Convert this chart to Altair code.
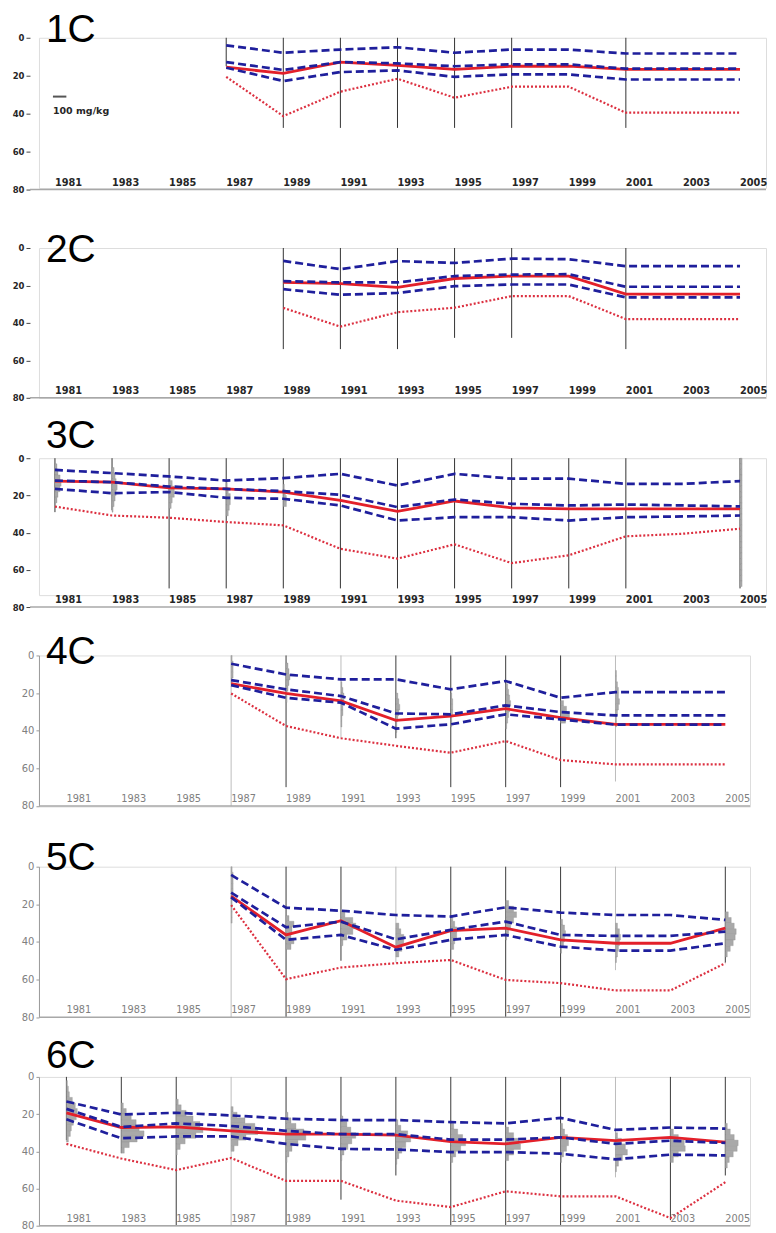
import altair as alt
import pandas as pd

TICK_YEARS = list(range(1981, 2006, 2))
TICK_LABELS = [str(y) for y in TICK_YEARS]
Y_TICKS = [0, 20, 40, 60, 80]
STATS = ["P10", "P25", "P50", "P75", "P90"]
HIST_BIN = 3          # depth units per histogram bin
HIST_SCALE = 0.036    # years per histogram count

# ---------------- 1C ----------------
C1_YEARS = [1987, 1989, 1991, 1993, 1995, 1997, 1999, 2001, 2003, 2005]
C1_P10 = [4.0, 7.9, 6.2, 5.0, 7.9, 6.2, 6.2, 8.3, 8.3, 8.3]
C1_P25 = [12.8, 17.0, 12.8, 13.5, 15.0, 14.0, 14.0, 16.3, 16.3, 16.3]
C1_P50 = [15.5, 18.8, 12.8, 14.6, 16.7, 15.0, 15.0, 16.7, 16.7, 16.7]
C1_P75 = [15.8, 22.8, 18.1, 17.2, 20.6, 19.3, 19.3, 22.0, 22.0, 22.0]
C1_P90 = [20.6, 41.3, 28.4, 21.6, 31.6, 25.8, 25.8, 39.5, 39.5, 39.5]
C1_RANGE_YEARS = [1987, 1989, 1991, 1993, 1995, 1997, 2001]
C1_RANGE_MAX = [15, 47.5, 47.5, 47.5, 47.5, 47.5, 47.5]
C1_FAINT = []
C1_HIST = {}

# ---------------- 2C ----------------
C2_YEARS = [1989, 1991, 1993, 1995, 1997, 1999, 2001, 2003, 2005]
C2_P10 = [6.9, 11.3, 7.0, 8.0, 5.7, 6.0, 9.7, 9.7, 9.7]
C2_P25 = [17.7, 18.4, 18.4, 15.0, 14.2, 14.0, 20.7, 20.7, 20.7]
C2_P50 = [18.4, 19.0, 21.0, 16.3, 15.0, 15.0, 24.6, 24.6, 24.6]
C2_P75 = [22.0, 25.0, 24.0, 20.4, 19.5, 19.5, 26.4, 26.4, 26.4]
C2_P90 = [32.0, 42.0, 34.3, 31.9, 25.7, 25.7, 38.0, 38.0, 38.0]
C2_RANGE_YEARS = [1989, 1991, 1993, 1995, 1997, 2001]
C2_RANGE_MAX = [54, 54, 54, 48, 48, 54]
C2_FAINT = []
C2_HIST = {}

# ---------------- 3C ----------------
C3_YEARS = TICK_YEARS
C3_P10 = [6.3, 8.0, 9.8, 12.0, 10.7, 8.4, 14.7, 8.4, 11.0, 11.0, 13.8, 13.8, 12.3]
C3_P25 = [12.0, 12.9, 15.2, 16.5, 17.7, 19.7, 26.3, 22.2, 24.5, 25.4, 24.9, 25.4, 25.9]
C3_P50 = [12.3, 12.9, 15.9, 16.5, 18.2, 22.7, 28.6, 23.0, 26.7, 27.2, 27.2, 27.2, 27.2]
C3_P75 = [16.5, 18.8, 18.2, 21.3, 21.8, 25.4, 33.5, 31.7, 31.7, 33.5, 31.7, 31.3, 30.8]
C3_P90 = [26.0, 30.8, 32.0, 34.3, 36.1, 48.7, 54.0, 46.3, 56.4, 52.2, 42.0, 40.6, 37.9]
C3_RANGE_YEARS = [1981, 1983, 1985, 1987, 1989, 1991, 1993, 1995, 1997, 1999, 2001, 2005]
C3_RANGE_MAX = [29, 28, 70, 70, 70, 70, 70, 70, 70, 70, 70, 70]
C3_FAINT = []
C3_HIST = {
    1981: (3, [2, 3, 5, 6, 5, 3, 2]),
    1983: (5, [2, 3, 4, 5, 4, 3, 2, 1]),
    1985: (9, [1, 3, 5, 5, 3, 2]),
    1987: (13, [1, 2, 4, 4, 3, 2]),
    1989: (14, [1, 2, 3, 3]),
    2005: (0, [2] * 23),
}

# ---------------- 4C ----------------
C4_YEARS = [1987, 1989, 1991, 1993, 1995, 1997, 1999, 2001, 2003, 2005]
C4_P10 = [4.4, 10.1, 12.7, 12.7, 18.0, 13.6, 22.5, 19.5, 19.5, 19.5]
C4_P25 = [13.1, 18.0, 21.6, 30.8, 31.3, 26.5, 30.1, 31.9, 31.9, 31.9]
C4_P50 = [15.0, 20.2, 24.2, 34.5, 32.2, 28.3, 33.0, 36.6, 36.6, 36.6]
C4_P75 = [15.8, 22.5, 25.1, 38.9, 36.6, 31.3, 34.0, 36.8, 36.8, 36.8]
C4_P90 = [20.2, 37.5, 44.0, 48.0, 51.7, 45.5, 55.6, 57.9, 57.9, 57.9]
C4_RANGE_YEARS = [1987, 1989, 1991, 1993, 1995, 1997, 1999, 2001]
C4_RANGE_MAX = [80, 70, 44, 44, 70, 70, 70, 67]
C4_FAINT = [1987, 1991, 2001]
C4_HIST = {
    1987: (0, [1, 2, 2, 2, 1]),
    1989: (4, [2, 3, 4, 3, 2, 1, 1]),
    1991: (14, [1, 2, 3, 3, 2, 2, 1, 1]),
    1993: (20, [2, 3, 4, 3, 2, 1, 1]),
    1995: (20, [1, 2, 2, 2, 1, 1]),
    1997: (15, [2, 3, 4, 5, 4, 3, 2, 1]),
    1999: (24, [3, 6, 9, 5]),
    2001: (8, [1, 1, 2, 3, 3, 4, 3, 2, 1, 1]),
}

# ---------------- 5C ----------------
C5_YEARS = [1987, 1989, 1991, 1993, 1995, 1997, 1999, 2001, 2003, 2005]
C5_P10 = [4.4, 21.8, 23.4, 25.7, 26.5, 21.6, 24.4, 25.7, 25.7, 28.3]
C5_P25 = [13.8, 32.2, 29.2, 38.6, 33.6, 29.2, 36.3, 36.8, 36.8, 34.5]
C5_P50 = [15.6, 36.3, 28.7, 42.8, 34.0, 32.7, 38.9, 40.7, 40.7, 32.7]
C5_P75 = [16.3, 38.9, 36.3, 44.2, 38.9, 36.3, 42.5, 44.6, 44.6, 40.7]
C5_P90 = [20.4, 59.8, 53.6, 51.3, 49.6, 60.2, 61.9, 65.8, 65.8, 51.3]
C5_RANGE_YEARS = [1987, 1989, 1991, 1993, 1995, 1997, 1999, 2001, 2005]
C5_RANGE_MAX = [80, 80, 50, 51, 80, 80, 80, 55, 51]
C5_FAINT = [1987, 1993, 2001]
C5_HIST = {
    1987: (0, [1, 2, 2, 2, 2, 1, 1, 1, 1, 1]),
    1989: (26, [3, 8, 6, 5, 8, 5]),
    1991: (24, [4, 12, 15, 12, 6, 2]),
    1993: (30, [3, 5, 8, 8, 6, 3]),
    1995: (26, [2, 4, 6, 6, 4, 3]),
    1997: (18, [3, 8, 11, 8, 5, 3, 1]),
    1999: (28, [2, 4, 5, 4, 3, 1]),
    2001: (30, [2, 4, 5, 4, 3, 2, 1]),
    2005: (24, [3, 6, 9, 11, 10, 8, 5, 2]),
}

# ---------------- 6C ----------------
C6_YEARS = TICK_YEARS
C6_P10 = [13.2, 20.2, 19.3, 20.7, 22.5, 23.2, 23.2, 24.3, 25.0, 22.0, 28.5, 27.2, 27.8]
C6_P25 = [17.2, 26.9, 25.0, 26.4, 29.0, 30.8, 30.8, 33.7, 33.7, 32.5, 36.0, 34.3, 35.5]
C6_P50 = [19.3, 27.2, 26.9, 29.0, 30.8, 30.8, 31.3, 34.8, 36.0, 32.5, 34.3, 32.5, 35.1]
C6_P75 = [22.8, 33.0, 32.0, 32.0, 36.0, 38.7, 39.0, 40.4, 40.4, 41.3, 44.3, 41.8, 42.2]
C6_P90 = [36.0, 43.9, 50.1, 43.6, 55.9, 55.9, 66.5, 70.0, 61.5, 64.2, 64.2, 75.9, 56.6]
C6_RANGE_YEARS = TICK_YEARS
C6_RANGE_MAX = [34, 41, 80, 80, 80, 66, 53, 80, 80, 80, 54, 77, 53]
C6_FAINT = [1987, 2001]
C6_HIST = {
    1981: (2, [1, 2, 3, 6, 9, 11, 10, 7, 5, 4, 2]),
    1983: (14, [2, 5, 10, 15, 18, 23, 16, 8, 3]),
    1985: (12, [2, 5, 10, 17, 24, 27, 20, 9, 4, 1]),
    1987: (16, [2, 6, 14, 24, 27, 15, 7, 3]),
    1989: (19, [2, 5, 10, 18, 20, 12, 6, 3, 1]),
    1991: (21, [2, 6, 10, 15, 11, 7, 3, 1]),
    1993: (23, [2, 5, 12, 15, 10, 6, 3, 1]),
    1995: (25, [3, 7, 12, 15, 10, 5, 2]),
    1997: (27, [3, 8, 13, 15, 8, 3]),
    1999: (25, [2, 4, 7, 8, 6, 3, 1]),
    2001: (30, [2, 6, 10, 12, 7, 3, 1]),
    2003: (28, [3, 8, 14, 15, 8, 3]),
    2005: (25, [2, 5, 9, 13, 12, 8, 4, 2]),
}

BLUE = "#1f1f9c"
RED = "#e3202a"
RED_DOT = "#dc3040"

STYLE_A = dict(
    xdom=[1980.44, 2005.91], width=728, frame_from=1980.125,
    label_font="DejaVu Sans", label_weight="bold", label_size=9.8, label_color="#262626",
    ylabel_size=8.5, ylabel_color="#262626", y_domain=False, y_offset=9, min_extent=21,
    tick_size=4, tick_color="#444444", dark="#333333", faint="#b5b5b5",
)
STYLE_B = dict(
    xdom=[1980.0, 2005.9], width=712, frame_from=1980.0,
    label_font="DejaVu Sans", label_weight="normal", label_size=9.8, label_color="#808080",
    ylabel_size=10, ylabel_color="#808080", y_domain=True, y_offset=0, min_extent=30,
    tick_size=3, tick_color="#9a9a9a", dark="#3a3a3a", faint="#bdbdbd",
)


def panel(name, years, series, rng_years, rng_max, faint, hist, style, plot_h, view_h,
          title_y, legend=False):
    xs = alt.Scale(domain=style["xdom"], nice=False, zero=False)
    ys = alt.Scale(domain=[0, 80], range=[0, plot_h], nice=False, zero=False)
    yaxis = alt.Axis(
        values=Y_TICKS, title=None, grid=False, domain=style["y_domain"],
        domainColor="#9a9a9a", domainWidth=1, ticks=True, tickSize=style["tick_size"],
        tickColor=style["tick_color"], tickWidth=1, labelFont=style["label_font"],
        labelFontWeight=style["label_weight"], labelFontSize=style["ylabel_size"],
        labelColor=style["ylabel_color"], labelPadding=2, labelFlush=False,
        offset=style["y_offset"], minExtent=style["min_extent"],
    )

    def X(f):
        return alt.X(f, scale=xs, axis=None)

    def Y(f):
        return alt.Y(f, scale=ys, axis=yaxis)

    layers = []

    # sampling range lines
    rdf = pd.DataFrame({
        "year": rng_years,
        "lo": [0] * len(rng_years),
        "hi": rng_max,
        "faint": [y in faint for y in rng_years],
    })
    layers.append(
        alt.Chart(rdf).mark_rule(strokeWidth=1).encode(
            x=X("year:Q"), y=Y("lo:Q"), y2="hi:Q",
            color=alt.condition(alt.datum.faint, alt.value(style["faint"]),
                                alt.value(style["dark"])),
        )
    )

    # histograms
    if hist:
        rows = []
        for yr, (start, counts) in hist.items():
            for i, n in enumerate(counts):
                rows.append({"year": yr, "lo": start + i * HIST_BIN,
                             "hi": start + (i + 1) * HIST_BIN, "n": n})
        hdf = pd.DataFrame(rows)
        layers.append(
            alt.Chart(hdf).transform_calculate(
                x2=f"datum.year + datum.n * {HIST_SCALE}"
            ).mark_rect(fill="#a9a9a9", stroke="#8c8c8c", strokeWidth=0.3).encode(
                x=X("year:Q"), x2="x2:Q", y=Y("lo:Q"), y2="hi:Q"
            )
        )

    # statistics lines
    rows = []
    for stat, vals in zip(STATS, series):
        for yr, v in zip(years, vals):
            rows.append({"year": yr, "stat": stat, "value": v})
    ldf = pd.DataFrame(rows)
    base = alt.Chart(ldf)
    layers.append(
        base.transform_filter(alt.datum.stat == "P90").mark_line(
            color=RED_DOT, strokeWidth=2.2, strokeDash=[2, 2]
        ).encode(x=X("year:Q"), y=Y("value:Q"))
    )
    layers.append(
        base.transform_filter(alt.datum.stat == "P50").mark_line(
            color=RED, strokeWidth=2.8
        ).encode(x=X("year:Q"), y=Y("value:Q"))
    )
    layers.append(
        base.transform_filter(
            alt.FieldOneOfPredicate(field="stat", oneOf=["P10", "P25", "P75"])
        ).mark_line(color=BLUE, strokeWidth=2.7, strokeDash=[8, 4]).encode(
            x=X("year:Q"), y=Y("value:Q"), detail="stat:N"
        )
    )

    # bottom frame line
    layers.append(
        alt.Chart(pd.DataFrame({"k": [0]})).mark_rule(color="#a8a8a8", strokeWidth=1.5).encode(
            x=alt.X(datum=style["frame_from"], scale=xs, axis=None),
            x2=alt.datum(style["xdom"][1]),
            y=alt.Y(datum=80, scale=ys, axis=yaxis),
        )
    )

    # year labels inside the plot
    tdf = pd.DataFrame({"year": TICK_YEARS, "label": TICK_LABELS})
    layers.append(
        alt.Chart(tdf).mark_text(
            align="left", baseline="alphabetic", font=style["label_font"],
            fontWeight=style["label_weight"], fontSize=style["label_size"],
            color=style["label_color"],
        ).encode(x=X("year:Q"), y=alt.value(plot_h - 4), text="label:N")
    )

    if legend:
        layers.append(
            alt.Chart(pd.DataFrame({"k": [0]})).mark_rule(color="#555555", strokeWidth=2).encode(
                x=alt.X(datum=1980.93, scale=xs, axis=None),
                x2=alt.datum(1981.4),
                y=alt.Y(datum=31, scale=ys, axis=yaxis),
            )
        )
        layers.append(
            alt.Chart(pd.DataFrame({"t": ["100 mg/kg"]})).mark_text(
                align="left", baseline="alphabetic", font="DejaVu Sans",
                fontWeight="bold", fontSize=9.5, color="#262626",
            ).encode(
                x=alt.X(datum=1980.93, scale=xs, axis=None),
                y=alt.Y(datum=40, scale=ys, axis=yaxis),
                text="t:N",
            )
        )

    # panel name
    layers.append(
        alt.Chart(pd.DataFrame({"t": [name]})).mark_text(
            align="left", baseline="alphabetic", font="Liberation Sans",
            fontSize=39, color="#000000",
        ).encode(x=alt.value(7), y=alt.value(title_y), text="t:N")
    )

    return alt.layer(*layers).properties(width=style["width"], height=view_h)


p1 = panel("1C", C1_YEARS, [C1_P10, C1_P25, C1_P50, C1_P75, C1_P90],
           C1_RANGE_YEARS, C1_RANGE_MAX, C1_FAINT, C1_HIST, STYLE_A, 152, 150.5, 4, legend=True)
p2 = panel("2C", C2_YEARS, [C2_P10, C2_P25, C2_P50, C2_P75, C2_P90],
           C2_RANGE_YEARS, C2_RANGE_MAX, C2_FAINT, C2_HIST, STYLE_A, 150, 150.2, 14)
p3 = panel("3C", C3_YEARS, [C3_P10, C3_P25, C3_P50, C3_P75, C3_P90],
           C3_RANGE_YEARS, C3_RANGE_MAX, C3_FAINT, C3_HIST, STYLE_A, 149, 137.1, -10)
p4 = panel("4C", C4_YEARS, [C4_P10, C4_P25, C4_P50, C4_P75, C4_P90],
           C4_RANGE_YEARS, C4_RANGE_MAX, C4_FAINT, C4_HIST, STYLE_B, 150.7, 151.2, 9)
p5 = panel("5C", C5_YEARS, [C5_P10, C5_P25, C5_P50, C5_P75, C5_P90],
           C5_RANGE_YEARS, C5_RANGE_MAX, C5_FAINT, C5_HIST, STYLE_B, 150.7, 150.5, 3)
p6 = panel("6C", C6_YEARS, [C6_P10, C6_P25, C6_P50, C6_P75, C6_P90],
           C6_RANGE_YEARS, C6_RANGE_MAX, C6_FAINT, C6_HIST, STYLE_B, 149, 149, -9)

chart = alt.vconcat(p1, p2, p3, p4, p5, p6, spacing=59.5, bounds="flush").properties(
    padding={"left": 0, "top": 1, "right": 0, "bottom": 0}
).configure_view(stroke=None).configure(background="white")

chart.save("out.html", embed_options={"renderer": "svg", "actions": False})
